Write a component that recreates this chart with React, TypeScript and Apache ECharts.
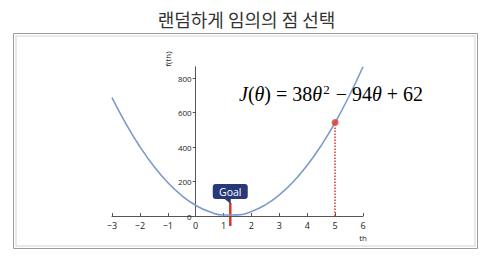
import React, { useEffect, useRef } from "react";
import * as echarts from "echarts";

// Data
const thetaValues = [-3, -2.5, -2, -1.5, -1, -0.5, 0, 0.5, 1, 1.5, 2, 2.5, 3, 3.5, 4, 4.5, 5, 5.5, 6];
const costValues = [686, 534.5, 402, 288.5, 194, 118.5, 62, 24.5, 6, 6.5, 26, 64.5, 122, 198.5, 294, 408.5, 542, 694.5, 866];
const pickedTheta = 5;
const pickedCost = 542;
const goalTheta = 1.24;
const yTickStep = 200;
const yMax = 866;
const titleText = "랜덤하게 임의의 점 선택";
const goalText = "Goal";
const xName = "th";
const yName = "f(th)";

export default function App() {
  const ref = useRef<HTMLDivElement>(null);
  useEffect(() => {
    document.body.style.margin = "0";
    const chart = echarts.init(ref.current!, null, { renderer: "svg" });
    const font = "'Open Sans', 'Noto Sans', sans-serif";
    const mathFont = "'Liberation Serif', serif";
    const red = "#d8372c";
    const gridLeft = 112;
    const option: any = {
      animation: false,
      backgroundColor: "#ffffff",
      title: {
        text: titleText,
        left: "center",
        top: 5,
        textStyle: { fontSize: 18, fontWeight: "normal", color: "#333", fontFamily: "'Noto Sans CJK KR', sans-serif" },
      },
      grid: { left: gridLeft, right: 130, top: 66.7, bottom: 45 },
      xAxis: {
        type: "value",
        min: -3,
        max: 6,
        interval: 1,
        splitLine: { show: false },
        axisLine: { onZero: true, lineStyle: { color: "#555", width: 1 } },
        axisTick: { inside: true, length: 3, lineStyle: { color: "#555" } },
        axisLabel: {
          color: "#222",
          fontSize: 9,
          fontFamily: font,
          margin: 5,
          formatter: (v: number) => String(v).replace("-", "\u2212"),
        },
      },
      yAxis: {
        type: "value",
        min: 0,
        max: yMax,
        interval: yTickStep,
        offset: 0,
        splitLine: { show: false },
        axisLine: { show: true, onZero: false, lineStyle: { color: "#555", width: 1 } },
        axisTick: { show: true, length: 3, lineStyle: { color: "#555" } },
        axisLabel: {
          color: "#222",
          fontSize: 8,
          fontFamily: font,
          margin: 4,
          showMaxLabel: false,
          formatter: (v: number) => (v % yTickStep === 0 ? String(v) : ""),
        },
      },
      series: [
        {
          type: "line",
          data: thetaValues.map((t, i) => [t, costValues[i]]),
          smooth: true,
          showSymbol: false,
          lineStyle: { color: "#7c9bcb", width: 1.6 },
          z: 2,
        },
        {
          type: "scatter",
          data: [[pickedTheta, pickedCost]],
          symbolSize: 7,
          itemStyle: { color: red },
          z: 5,
          markLine: {
            silent: true,
            symbol: ["none", "triangle"],
            symbolSize: [0, 6],
            label: { show: false },
            lineStyle: { color: red, type: "dotted", width: 1.5 },
            data: [[{ coord: [pickedTheta, 0] }, { coord: [pickedTheta, pickedCost - 20] }]],
          },
        },
      ],
    };
    chart.setOption(option);

    const zeroPx = chart.convertToPixel({ gridIndex: 0 }, [0, 0]) as number[];
    const g = chart.convertToPixel({ gridIndex: 0 }, [goalTheta, 0]) as number[];
    const gx = g[0];
    const gy = g[1];
    chart.setOption({
      yAxis: { offset: -(zeroPx[0] - gridLeft) },
      graphic: [
        {
          type: "rect",
          shape: { x: 13.5, y: 33.5, width: 464, height: 215 },
          style: { fill: "none", stroke: "#9c9c9c", lineWidth: 1 },
          silent: true,
        },
        {
          type: "rect",
          shape: { x: 16, y: 36, width: 459, height: 210 },
          style: { fill: "none", stroke: "#e0e3e8", lineWidth: 1.5 },
          silent: true,
        },
        {
          type: "text",
          x: 239,
          y: 92,
          style: {
            text: "{i|J}{n|(}{i|θ}{n|) = 38}{i|θ}{s|2}{n| − 94}{i|θ}{n| + 62}",
            verticalAlign: "middle",
            align: "left",
            rich: {
              i: { fontFamily: mathFont, fontStyle: "italic", fontSize: 20, color: "#111", lineHeight: 24, verticalAlign: "bottom" },
              n: { fontFamily: mathFont, fontSize: 20, color: "#111", lineHeight: 24, verticalAlign: "bottom" },
              s: { fontFamily: mathFont, fontSize: 13, color: "#111", lineHeight: 16, verticalAlign: "bottom", padding: [0, 1, 8, 1] },
            },
          },
          z: 10,
        },
        {
          type: "text",
          x: 167,
          y: 59,
          rotation: Math.PI / 2,
          style: { text: yName, fontSize: 8, fontFamily: font, fill: "#222", align: "center", verticalAlign: "middle" },
        },
        {
          type: "text",
          x: 363,
          y: 237,
          style: { text: xName, fontSize: 8, fontFamily: font, fill: "#222", align: "center", verticalAlign: "middle" },
        },
        {
          type: "group",
          x: gx,
          y: gy,
          z: 20,
          children: [
            {
              type: "rect",
              shape: { x: -1.2, y: -13, width: 2.5, height: 23 },
              style: { fill: red },
            },
            {
              type: "rect",
              shape: { x: -17.5, y: -32, width: 35, height: 15, r: 3 },
              style: { fill: "#28397a" },
            },
            {
              type: "polygon",
              shape: { points: [[-6, -17.5], [0.5, -17.5], [0.5, -12]] },
              style: { fill: "#28397a" },
            },
            {
              type: "text",
              x: 0,
              y: -24.5,
              style: { text: goalText, fontSize: 10.5, fontFamily: font, fill: "#ffffff", align: "center", verticalAlign: "middle" },
            },
          ],
        },
      ],
    });
    return () => chart.dispose();
  }, []);
  return <div ref={ref} style={{ width: 493, height: 261 }} />;
}
